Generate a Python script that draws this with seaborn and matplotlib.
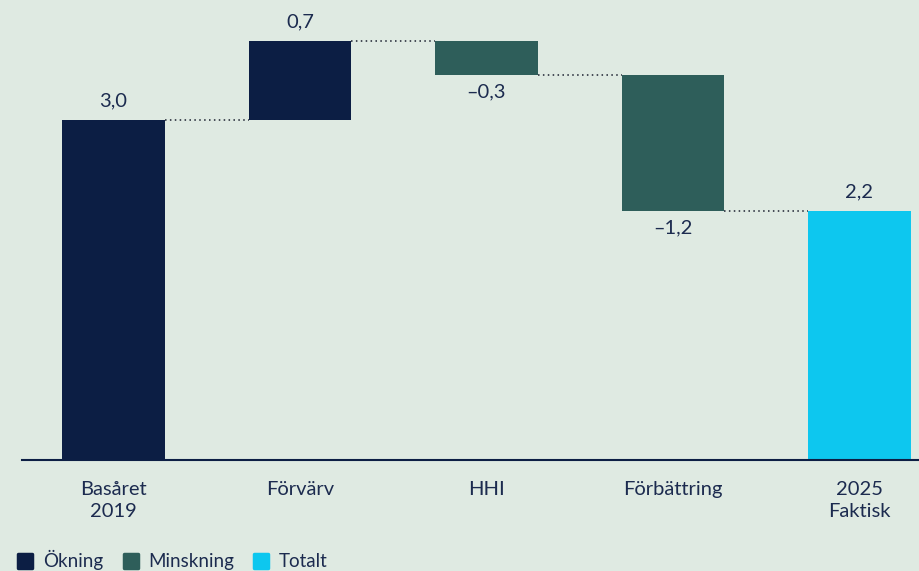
import matplotlib
matplotlib.use("Agg")
import matplotlib.pyplot as plt
from matplotlib.lines import Line2D
from matplotlib.markers import MarkerStyle
import seaborn as sns
import pandas as pd

# Waterfall steps
categories = ["Basåret\n2019", "Förvärv", "HHI", "Förbättring", "2025\nFaktisk"]
changes = [3.0, 0.7, -0.3, -1.2, 2.2]
kinds = ["Ökning", "Ökning", "Minskning", "Minskning", "Totalt"]
value_labels = ["3,0", "0,7", "\u20130,3", "\u20131,2", "2,2"]

BG = "#dfeae2"
NAVY = "#0c1e44"
GREEN = "#2e5e5a"
CYAN = "#0dc7ef"
TEXT = "#1c2b4f"
kind_colors = {"Ökning": NAVY, "Minskning": GREEN, "Totalt": CYAN}

sns.set_theme(style="white")
plt.rcParams["font.family"] = ["Lato", "DejaVu Sans"]

# Floating bar geometry: bottom and top of each step
bottoms, tops = [], []
running = 0.0
for i, (chg, kind) in enumerate(zip(changes, kinds)):
    if kind == "Totalt" or i == 0:
        bottoms.append(0.0)
        tops.append(chg)
        running = chg
    else:
        start = running
        running = running + chg
        bottoms.append(min(start, running))
        tops.append(max(start, running))

fig = plt.figure(figsize=(9.19, 5.71), dpi=100, facecolor=BG)
ax = fig.add_axes([22 / 919, 111 / 571, 1 - 22 / 919, 460 / 571])
ax.set_facecolor(BG)

bar_width = 0.55
for i, cat in enumerate(categories):
    df = pd.DataFrame({"cat": [cat], "h": [tops[i] - bottoms[i]]})
    sns.barplot(data=df, x="cat", y="h", order=categories, bottom=bottoms[i],
                color=kind_colors[kinds[i]], saturation=1, width=bar_width,
                linewidth=0, ax=ax, errorbar=None)

# Dotted connectors between consecutive bars
levels = []
running = 0.0
for i, (chg, kind) in enumerate(zip(changes, kinds)):
    running = chg if (kind == "Totalt" or i == 0) else running + chg
    levels.append(running)
for i in range(len(categories) - 1):
    ax.plot([i + bar_width / 2, i + 1 - bar_width / 2], [levels[i], levels[i]],
            linestyle=(0, (1, 2.2)), color="#1a1f2e", linewidth=1.1)

# Value labels: above for increases/totals, below for decreases
for i, (chg, lab) in enumerate(zip(changes, value_labels)):
    if chg >= 0:
        ax.annotate(lab, (i, tops[i]), xytext=(0, 13.5), textcoords="offset points",
                    ha="center", va="center", fontsize=14.5, color=TEXT)
    else:
        ax.annotate(lab, (i, bottoms[i]), xytext=(0, -12.5), textcoords="offset points",
                    ha="center", va="center", fontsize=14.5, color=TEXT)

ax.set_xlim(-0.4906, -0.4906 + 897 / 186.5)
ax.set_ylim(0, 460 / 113.33)
ax.set_xlabel("")
ax.set_ylabel("")
ax.set_yticks([])
ax.tick_params(axis="x", length=0, pad=15, labelsize=14.5, labelcolor=TEXT)
for t in ax.get_xticklabels():
    t.set_linespacing(1.35)
for side in ["top", "right", "left"]:
    ax.spines[side].set_visible(False)
ax.spines["bottom"].set_color(NAVY)
ax.spines["bottom"].set_linewidth(1.5)

# Legend with rounded square swatches
square = MarkerStyle("s", joinstyle="round")
handles = [Line2D([], [], linestyle="none", marker=square, markersize=10.5,
                  markerfacecolor=kind_colors[k], markeredgecolor=kind_colors[k],
                  markeredgewidth=2.5)
           for k in ["Ökning", "Minskning", "Totalt"]]
fig.legend(handles, ["Ökning", "Minskning", "Totalt"], loc="center left",
           bbox_to_anchor=(16 / 919, 11 / 571), ncol=3, frameon=False,
           handlelength=1.0, handletextpad=0.45, columnspacing=0.95,
           borderpad=0, borderaxespad=0, fontsize=13.5, labelcolor=TEXT)

fig.savefig("out.png", dpi=100, facecolor=BG)
